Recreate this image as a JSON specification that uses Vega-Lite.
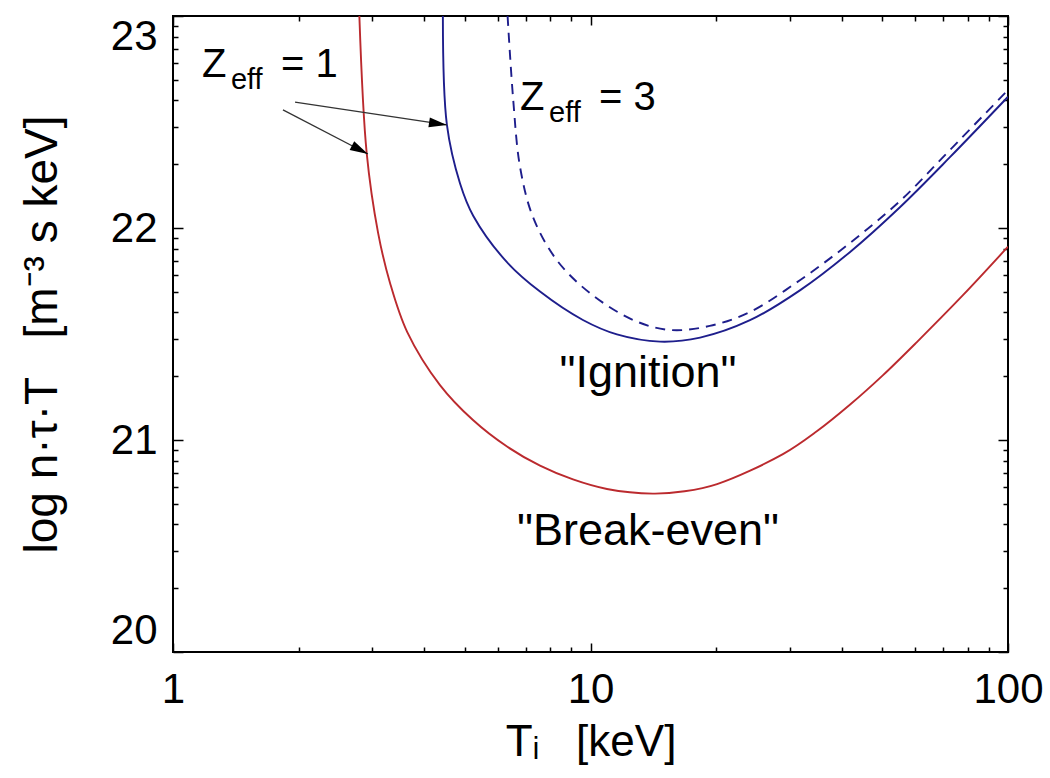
{
  "$schema": "https://vega.github.io/schema/vega-lite/v6.json",
  "width": 835,
  "height": 636,
  "autosize": {"type": "none"},
  "padding": {"left": 173, "top": 16, "right": 42, "bottom": 126},
  "background": "white",
  "config": {
    "view": {"stroke": "black", "strokeWidth": 2},
    "font": "Liberation Sans",
    "axis": {
      "grid": false,
      "domain": false,
      "tickColor": "black",
      "tickWidth": 1.5,
      "labelColor": "black",
      "titleColor": "black",
      "labelFont": "Liberation Sans",
      "titleFont": "Liberation Sans",
      "titleFontWeight": "normal",
      "labelFontSize": 42,
      "titleFontSize": 44
    }
  },
  "datasets": {
    "curves": [
      {"series": "breakeven", "T": 2.795, "L": 23.0},
      {"series": "breakeven", "T": 2.91, "L": 22.354},
      {"series": "breakeven", "T": 3.10, "L": 21.976},
      {"series": "breakeven", "T": 3.31, "L": 21.741},
      {"series": "breakeven", "T": 3.64, "L": 21.509},
      {"series": "breakeven", "T": 4.36, "L": 21.259},
      {"series": "breakeven", "T": 5.23, "L": 21.094},
      {"series": "breakeven", "T": 6.31, "L": 20.969},
      {"series": "breakeven", "T": 7.57, "L": 20.879},
      {"series": "breakeven", "T": 9.08, "L": 20.814},
      {"series": "breakeven", "T": 10.95, "L": 20.769},
      {"series": "breakeven", "T": 14.1, "L": 20.747},
      {"series": "breakeven", "T": 16.8, "L": 20.758},
      {"series": "breakeven", "T": 20.1, "L": 20.792},
      {"series": "breakeven", "T": 28.9, "L": 20.933},
      {"series": "breakeven", "T": 34.9, "L": 21.042},
      {"series": "breakeven", "T": 41.8, "L": 21.166},
      {"series": "breakeven", "T": 50.2, "L": 21.306},
      {"series": "breakeven", "T": 60.5, "L": 21.462},
      {"series": "breakeven", "T": 78.0, "L": 21.683},
      {"series": "breakeven", "T": 100, "L": 21.912},
      {"series": "ignition1", "T": 4.43, "L": 23.0},
      {"series": "ignition1", "T": 4.53, "L": 22.486},
      {"series": "ignition1", "T": 4.87, "L": 22.21},
      {"series": "ignition1", "T": 5.24, "L": 22.057},
      {"series": "ignition1", "T": 6.30, "L": 21.84},
      {"series": "ignition1", "T": 7.57, "L": 21.70},
      {"series": "ignition1", "T": 9.59, "L": 21.566},
      {"series": "ignition1", "T": 11.57, "L": 21.498},
      {"series": "ignition1", "T": 14.67, "L": 21.464},
      {"series": "ignition1", "T": 18.3, "L": 21.483},
      {"series": "ignition1", "T": 24.1, "L": 21.565},
      {"series": "ignition1", "T": 31.8, "L": 21.707},
      {"series": "ignition1", "T": 41.8, "L": 21.886},
      {"series": "ignition1", "T": 55.1, "L": 22.098},
      {"series": "ignition1", "T": 72.6, "L": 22.334},
      {"series": "ignition1", "T": 100, "L": 22.619},
      {"series": "ignition3", "T": 6.33, "L": 23.0},
      {"series": "ignition3", "T": 6.53, "L": 22.604},
      {"series": "ignition3", "T": 6.78, "L": 22.288},
      {"series": "ignition3", "T": 7.28, "L": 22.052},
      {"series": "ignition3", "T": 8.30, "L": 21.849},
      {"series": "ignition3", "T": 9.97, "L": 21.693},
      {"series": "ignition3", "T": 12.65, "L": 21.566},
      {"series": "ignition3", "T": 15.5, "L": 21.519},
      {"series": "ignition3", "T": 19.3, "L": 21.538},
      {"series": "ignition3", "T": 24.1, "L": 21.604},
      {"series": "ignition3", "T": 31.8, "L": 21.755},
      {"series": "ignition3", "T": 41.8, "L": 21.929},
      {"series": "ignition3", "T": 55.1, "L": 22.127},
      {"series": "ignition3", "T": 72.6, "L": 22.368},
      {"series": "ignition3", "T": 100, "L": 22.651}
    ],
    "arrows": [
      {"target": "blue", "T1": 1.96, "L1": 22.594, "T2": 4.53, "L2": 22.486},
      {"target": "red", "T1": 1.834, "L1": 22.557, "T2": 2.93, "L2": 22.349}
    ],
    "zlabels": [
      {"T": 1.173, "L": 22.712, "rhs": "= 1"},
      {"T": 6.78, "L": 22.557, "rhs": "= 3"}
    ],
    "curvelabels": [
      {"label": "\"Ignition\"", "T": 13.73, "L": 21.25},
      {"label": "\"Break-even\"", "T": 13.73, "L": 20.505}
    ]
  },
  "layer": [
    {
      "data": {"name": "curves"},
      "transform": [{"filter": "datum.series === 'breakeven'"}],
      "mark": {"type": "line", "color": "#bb2a2e", "strokeWidth": 1.9, "interpolate": "catmull-rom", "clip": true},
      "encoding": {
        "x": {
          "field": "T", "type": "quantitative",
          "scale": {"type": "log", "domain": [1, 100]},
          "axis": {"orient": "bottom", "values": [1, 10, 100], "offset": -9, "tickSize": 9, "labelPadding": 17, "labelFlush": false, "title": "T\u1d62\u00a0\u00a0\u00a0[keV]", "titlePadding": 10}
        },
        "y": {
          "field": "L", "type": "quantitative",
          "scale": {"domain": [20, 23], "zero": false},
          "axis": {"orient": "left", "values": [20, 21, 22, 23], "offset": -10, "tickSize": 10, "labelPadding": 16, "labelFlush": true, "title": "log n\u00b7\u03c4\u00b7T\u00a0\u00a0\u00a0[m\u207b\u00b3 s keV]", "titlePadding": 44, "titleFontSize": 46}
        }
      }
    },
    {
      "data": {"name": "curves"},
      "transform": [{"filter": "datum.series === 'ignition1'"}],
      "mark": {"type": "line", "color": "#1e1e8c", "strokeWidth": 1.9, "interpolate": "catmull-rom", "clip": true},
      "encoding": {
        "x": {
          "field": "T", "type": "quantitative",
          "scale": {"type": "log", "domain": [1, 100]},
          "axis": {"orient": "top", "values": [1, 10, 100], "offset": -9, "tickSize": 9, "labels": false, "title": null}
        },
        "y": {
          "field": "L", "type": "quantitative",
          "scale": {"domain": [20, 23], "zero": false},
          "axis": {"orient": "right", "values": [20, 21, 22, 23], "offset": -10, "tickSize": 10, "labels": false, "title": null}
        }
      }
    },
    {
      "data": {"name": "curves"},
      "transform": [{"filter": "datum.series === 'ignition3'"}],
      "mark": {"type": "line", "color": "#1e1e8c", "strokeWidth": 1.9, "strokeDash": [10, 7], "interpolate": "catmull-rom", "clip": true},
      "encoding": {
        "x": {
          "field": "T", "type": "quantitative",
          "scale": {"type": "log", "domain": [1, 100]},
          "axis": {"orient": "bottom", "values": [2, 3, 4, 5, 6, 7, 8, 9, 20, 30, 40, 50, 60, 70, 80, 90], "offset": -5, "tickSize": 5, "labels": false, "title": null}
        },
        "y": {
          "field": "L", "type": "quantitative",
          "scale": {"domain": [20, 23], "zero": false},
          "axis": {"orient": "left", "values": [20.30103, 20.47712, 20.60206, 20.69897, 20.77815, 20.8451, 20.90309, 20.95424, 21.30103, 21.47712, 21.60206, 21.69897, 21.77815, 21.8451, 21.90309, 21.95424, 22.30103, 22.47712, 22.60206, 22.69897, 22.77815, 22.8451, 22.90309, 22.95424], "offset": -5, "tickSize": 5, "labels": false, "title": null}
        }
      }
    },
    {
      "data": {"name": "arrows"},
      "mark": {"type": "rule", "color": "#333333", "strokeWidth": 1.3},
      "encoding": {
        "x": {
          "field": "T1", "type": "quantitative",
          "scale": {"type": "log", "domain": [1, 100]},
          "axis": {"orient": "top", "values": [2, 3, 4, 5, 6, 7, 8, 9, 20, 30, 40, 50, 60, 70, 80, 90], "offset": -5, "tickSize": 5, "labels": false, "title": null}
        },
        "y": {
          "field": "L1", "type": "quantitative",
          "scale": {"domain": [20, 23], "zero": false},
          "axis": {"orient": "right", "values": [20.30103, 20.47712, 20.60206, 20.69897, 20.77815, 20.8451, 20.90309, 20.95424, 21.30103, 21.47712, 21.60206, 21.69897, 21.77815, 21.8451, 21.90309, 21.95424, 22.30103, 22.47712, 22.60206, 22.69897, 22.77815, 22.8451, 22.90309, 22.95424], "offset": -5, "tickSize": 5, "labels": false, "title": null}
        },
        "x2": {"field": "T2"},
        "y2": {"field": "L2"}
      }
    },
    {
      "data": {"name": "arrows"},
      "transform": [{"filter": "datum.target === 'blue'"}],
      "mark": {"type": "point", "shape": "M0,0L-2,-0.55L-2,0.55Z", "filled": true, "color": "black", "opacity": 1, "size": 324, "angle": 8.6, "strokeWidth": 0},
      "encoding": {
        "x": {"field": "T2", "type": "quantitative", "scale": {"type": "log", "domain": [1, 100]}, "axis": null},
        "y": {"field": "L2", "type": "quantitative", "scale": {"domain": [20, 23], "zero": false}, "axis": null}
      }
    },
    {
      "data": {"name": "arrows"},
      "transform": [{"filter": "datum.target === 'red'"}],
      "mark": {"type": "point", "shape": "M0,0L-2,-0.55L-2,0.55Z", "filled": true, "color": "black", "opacity": 1, "size": 324, "angle": 27.4, "strokeWidth": 0},
      "encoding": {
        "x": {"field": "T2", "type": "quantitative", "scale": {"type": "log", "domain": [1, 100]}, "axis": null},
        "y": {"field": "L2", "type": "quantitative", "scale": {"domain": [20, 23], "zero": false}, "axis": null}
      }
    },
    {
      "data": {"name": "zlabels"},
      "mark": {"type": "text", "text": "Z", "align": "left", "baseline": "alphabetic", "fontSize": 40, "color": "black"},
      "encoding": {
        "x": {"field": "T", "type": "quantitative", "scale": {"type": "log", "domain": [1, 100]}, "axis": null},
        "y": {"field": "L", "type": "quantitative", "scale": {"domain": [20, 23], "zero": false}, "axis": null}
      }
    },
    {
      "data": {"name": "zlabels"},
      "mark": {"type": "text", "text": "eff", "align": "left", "baseline": "alphabetic", "fontSize": 29, "dx": 29, "dy": 12, "color": "black"},
      "encoding": {
        "x": {"field": "T", "type": "quantitative", "scale": {"type": "log", "domain": [1, 100]}, "axis": null},
        "y": {"field": "L", "type": "quantitative", "scale": {"domain": [20, 23], "zero": false}, "axis": null}
      }
    },
    {
      "data": {"name": "zlabels"},
      "mark": {"type": "text", "align": "left", "baseline": "alphabetic", "fontSize": 40, "dx": 79, "color": "black"},
      "encoding": {
        "x": {"field": "T", "type": "quantitative", "scale": {"type": "log", "domain": [1, 100]}, "axis": null},
        "y": {"field": "L", "type": "quantitative", "scale": {"domain": [20, 23], "zero": false}, "axis": null},
        "text": {"field": "rhs"}
      }
    },
    {
      "data": {"name": "curvelabels"},
      "mark": {"type": "text", "align": "center", "baseline": "alphabetic", "fontSize": 45, "color": "black"},
      "encoding": {
        "x": {"field": "T", "type": "quantitative", "scale": {"type": "log", "domain": [1, 100]}, "axis": null},
        "y": {"field": "L", "type": "quantitative", "scale": {"domain": [20, 23], "zero": false}, "axis": null},
        "text": {"field": "label"}
      }
    }
  ],
  "resolve": {"axis": {"x": "independent", "y": "independent"}}
}
